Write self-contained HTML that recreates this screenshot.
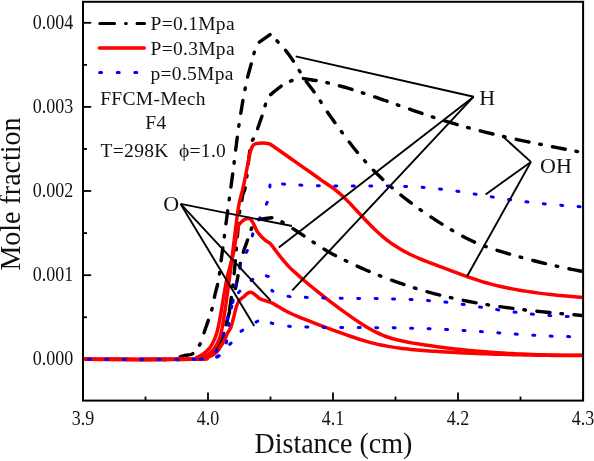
<!DOCTYPE html>
<html><head><meta charset="utf-8"><title>Mole fraction chart</title><style>
html,body{margin:0;padding:0;background:#fff;}
body{width:594px;height:461px;overflow:hidden;position:relative;}
svg{position:absolute;left:0;top:0;display:block;will-change:transform;}
text{font-family:"Liberation Serif",serif;fill:#111;}
.tk{font-size:18px;}
.ttl{font-size:28px;}
.lg{font-size:19.5px;letter-spacing:0.3px;}
.lb{font-size:22px;}
path,polyline,line{fill:none;}
.blk{stroke:#000;stroke-width:3.4;stroke-dasharray:13.1 10.9 1.6 11.4;stroke-linecap:round;stroke-linejoin:round;}
.red{stroke:#f00;stroke-width:3.5;stroke-linejoin:round;}
.blu{stroke:#00f;stroke-width:3;stroke-dasharray:2 15.5;stroke-linecap:round;stroke-linejoin:round;}
.ann{stroke:#000;stroke-width:1.9;}
</style></head>
<body>
<svg width="594" height="461" viewBox="0 0 594 461">
<defs><clipPath id="c"><rect x="84" y="2.6" width="498" height="397"/></clipPath></defs>
<line x1="83" y1="22.8" x2="91.2" y2="22.8" stroke="#000" stroke-width="1.8"/>
<line x1="83" y1="106.9" x2="91.2" y2="106.9" stroke="#000" stroke-width="1.8"/>
<line x1="83" y1="191.0" x2="91.2" y2="191.0" stroke="#000" stroke-width="1.8"/>
<line x1="83" y1="275.2" x2="91.2" y2="275.2" stroke="#000" stroke-width="1.8"/>
<line x1="83" y1="359.3" x2="91.2" y2="359.3" stroke="#000" stroke-width="1.8"/>
<line x1="83" y1="64.85" x2="87" y2="64.85" stroke="#000" stroke-width="1.8"/>
<line x1="83" y1="148.95" x2="87" y2="148.95" stroke="#000" stroke-width="1.8"/>
<line x1="83" y1="233.1" x2="87" y2="233.1" stroke="#000" stroke-width="1.8"/>
<line x1="83" y1="317.25" x2="87" y2="317.25" stroke="#000" stroke-width="1.8"/>
<line x1="83" y1="400.6" x2="83" y2="392.5" stroke="#000" stroke-width="1.8"/>
<line x1="208" y1="400.6" x2="208" y2="392.5" stroke="#000" stroke-width="1.8"/>
<line x1="333" y1="400.6" x2="333" y2="392.5" stroke="#000" stroke-width="1.8"/>
<line x1="458" y1="400.6" x2="458" y2="392.5" stroke="#000" stroke-width="1.8"/>
<line x1="583" y1="400.6" x2="583" y2="392.5" stroke="#000" stroke-width="1.8"/>
<line x1="145.5" y1="400.6" x2="145.5" y2="396.6" stroke="#000" stroke-width="1.8"/>
<line x1="270.5" y1="400.6" x2="270.5" y2="396.6" stroke="#000" stroke-width="1.8"/>
<line x1="395.5" y1="400.6" x2="395.5" y2="396.6" stroke="#000" stroke-width="1.8"/>
<line x1="520.5" y1="400.6" x2="520.5" y2="396.6" stroke="#000" stroke-width="1.8"/>
<g clip-path="url(#c)">
<path id="BO" style="stroke-dasharray:13.18 10.97 1.61 11.47;stroke-dashoffset:18.48" class="blk" d="M83.00,359.30 C102.17,359.30 177.17,359.77 198.00,359.30 C218.83,358.83 205.33,357.72 208.00,356.50 C210.67,355.28 212.25,353.92 214.00,352.00 C215.75,350.08 217.15,347.52 218.50,345.00 C219.85,342.48 220.80,340.47 222.10,336.90 C223.40,333.33 224.85,328.63 226.30,323.60 C227.75,318.57 229.62,311.25 230.80,306.70 C231.98,302.15 232.50,299.90 233.40,296.30 C234.30,292.70 235.40,288.70 236.20,285.10 C237.00,281.50 237.55,278.17 238.20,274.70 C238.85,271.23 239.13,268.42 240.10,264.30 C241.07,260.18 242.98,253.40 244.00,250.00 C245.02,246.60 245.23,246.70 246.20,243.90 C247.17,241.10 248.67,236.35 249.80,233.20 C250.93,230.05 251.97,227.03 253.00,225.00 C254.03,222.97 254.75,221.97 256.00,221.00 C257.25,220.03 257.47,219.73 260.50,219.20 C263.53,218.67 270.82,217.45 274.20,217.80 C277.58,218.15 279.10,220.40 280.80,221.30 C282.50,222.20 282.62,222.12 284.40,223.20 C286.18,224.28 289.73,226.67 291.50,227.80 C293.27,228.93 293.42,228.95 295.00,229.97 C296.58,230.98 299.00,232.55 301.00,233.88 C303.00,235.21 305.00,236.57 307.00,237.92 C309.00,239.27 311.00,240.65 313.00,241.98 C315.00,243.32 317.00,244.66 319.00,245.94 C321.00,247.22 323.00,248.47 325.00,249.67 C327.00,250.87 329.00,252.03 331.00,253.15 C333.00,254.27 335.00,255.35 337.00,256.40 C339.00,257.45 341.00,258.46 343.00,259.46 C345.00,260.45 347.00,261.41 349.00,262.36 C351.00,263.31 353.00,264.24 355.00,265.15 C357.00,266.06 359.00,266.96 361.00,267.84 C363.00,268.73 365.00,269.60 367.00,270.45 C369.00,271.30 371.00,272.14 373.00,272.97 C375.00,273.79 377.00,274.60 379.00,275.40 C381.00,276.19 383.00,276.97 385.00,277.74 C387.00,278.50 389.00,279.25 391.00,279.99 C393.00,280.72 395.00,281.44 397.00,282.15 C399.00,282.86 401.00,283.55 403.00,284.23 C405.00,284.90 407.00,285.56 409.00,286.21 C411.00,286.86 413.00,287.49 415.00,288.11 C417.00,288.73 419.00,289.33 421.00,289.92 C423.00,290.51 425.00,291.09 427.00,291.65 C429.00,292.21 431.00,292.75 433.00,293.29 C435.00,293.82 437.00,294.34 439.00,294.84 C441.00,295.35 443.00,295.84 445.00,296.32 C447.00,296.80 449.00,297.26 451.00,297.71 C453.00,298.17 455.00,298.61 457.00,299.04 C459.00,299.47 461.00,299.89 463.00,300.29 C465.00,300.70 467.00,301.09 469.00,301.48 C471.00,301.86 473.00,302.24 475.00,302.60 C477.00,302.97 479.00,303.32 481.00,303.66 C483.00,304.01 485.00,304.34 487.00,304.67 C489.00,304.99 491.00,305.31 493.00,305.62 C495.00,305.93 497.00,306.23 499.00,306.52 C501.00,306.81 503.00,307.09 505.00,307.37 C507.00,307.64 509.00,307.91 511.00,308.17 C513.00,308.44 515.00,308.69 517.00,308.94 C519.00,309.19 521.00,309.43 523.00,309.67 C525.00,309.90 527.00,310.13 529.00,310.36 C531.00,310.58 533.00,310.80 535.00,311.02 C537.00,311.24 539.00,311.45 541.00,311.65 C543.00,311.86 545.00,312.06 547.00,312.26 C549.00,312.46 551.00,312.65 553.00,312.84 C555.00,313.04 557.00,313.22 559.00,313.41 C561.00,313.60 563.00,313.78 565.00,313.96 C567.00,314.14 569.00,314.32 571.00,314.50 C573.00,314.68 575.00,314.85 577.00,315.03 C579.00,315.20 582.00,315.47 583.00,315.55"/>
<path id="BOH" style="stroke-dasharray:13.09 10.89 1.60 11.39;stroke-dashoffset:3.10" class="blk" d="M83.00,359.30 C101.83,359.30 175.50,359.68 196.00,359.30 C216.50,358.92 203.00,358.38 206.00,357.00 C209.00,355.62 211.83,353.17 214.00,351.00 C216.17,348.83 217.58,346.33 219.00,344.00 C220.42,341.67 221.08,341.00 222.50,337.00 C223.92,333.00 226.08,326.17 227.50,320.00 C228.92,313.83 229.83,308.33 231.00,300.00 C232.17,291.67 233.42,280.83 234.50,270.00 C235.58,259.17 236.67,244.50 237.50,235.00 C238.33,225.50 238.85,218.17 239.50,213.00 C240.15,207.83 240.87,207.00 241.40,204.00 C241.93,201.00 241.95,198.28 242.70,195.00 C243.45,191.72 244.63,192.23 245.90,184.30 C247.17,176.37 248.83,155.38 250.30,147.40 C251.77,139.42 253.53,139.38 254.70,136.40 C255.87,133.42 255.87,133.55 257.30,129.50 C258.73,125.45 261.85,116.58 263.30,112.10 C264.75,107.62 265.13,105.22 266.00,102.60 C266.87,99.98 268.08,97.43 268.50,96.40 C268.75,96.18 267.73,96.92 270.00,95.10 C272.27,93.28 278.48,87.90 282.10,85.50 C285.72,83.10 288.37,81.85 291.70,80.70 C295.03,79.55 299.88,78.90 302.10,78.60 C304.32,78.30 303.52,78.72 305.00,78.90 C306.48,79.09 309.00,79.40 311.00,79.70 C313.00,79.99 315.00,80.32 317.00,80.68 C319.00,81.04 321.00,81.43 323.00,81.85 C325.00,82.26 327.00,82.70 329.00,83.17 C331.00,83.64 333.00,84.13 335.00,84.64 C337.00,85.16 339.00,85.69 341.00,86.25 C343.00,86.80 345.00,87.37 347.00,87.96 C349.00,88.55 351.00,89.16 353.00,89.78 C355.00,90.40 357.00,91.04 359.00,91.68 C361.00,92.33 363.00,92.98 365.00,93.65 C367.00,94.31 369.00,94.99 371.00,95.67 C373.00,96.35 375.00,97.04 377.00,97.73 C379.00,98.42 381.00,99.11 383.00,99.81 C385.00,100.51 387.00,101.21 389.00,101.91 C391.00,102.61 393.00,103.32 395.00,104.02 C397.00,104.73 399.00,105.43 401.00,106.14 C403.00,106.84 405.00,107.54 407.00,108.25 C409.00,108.95 411.00,109.65 413.00,110.34 C415.00,111.03 417.00,111.73 419.00,112.41 C421.00,113.10 423.00,113.78 425.00,114.45 C427.00,115.13 429.00,115.80 431.00,116.46 C433.00,117.12 435.00,117.77 437.00,118.42 C439.00,119.06 441.00,119.70 443.00,120.32 C445.00,120.95 447.00,121.56 449.00,122.16 C451.00,122.77 453.00,123.36 455.00,123.95 C457.00,124.53 459.00,125.10 461.00,125.67 C463.00,126.24 465.00,126.79 467.00,127.34 C469.00,127.89 471.00,128.43 473.00,128.96 C475.00,129.49 477.00,130.01 479.00,130.52 C481.00,131.04 483.00,131.54 485.00,132.04 C487.00,132.54 489.00,133.03 491.00,133.52 C493.00,134.01 495.00,134.48 497.00,134.95 C499.00,135.43 501.00,135.89 503.00,136.35 C505.00,136.81 507.00,137.26 509.00,137.71 C511.00,138.16 513.00,138.60 515.00,139.04 C517.00,139.47 519.00,139.90 521.00,140.33 C523.00,140.76 525.00,141.18 527.00,141.60 C529.00,142.02 531.00,142.43 533.00,142.84 C535.00,143.25 537.00,143.66 539.00,144.06 C541.00,144.46 543.00,144.86 545.00,145.26 C547.00,145.66 549.00,146.05 551.00,146.44 C553.00,146.84 555.00,147.23 557.00,147.61 C559.00,148.00 561.00,148.39 563.00,148.77 C565.00,149.15 567.00,149.54 569.00,149.92 C571.00,150.30 573.00,150.68 575.00,151.06 C577.00,151.44 579.67,151.95 581.00,152.20 C582.33,152.45 582.67,152.52 583.00,152.58"/>
<path id="BH" style="stroke-dasharray:13.15 10.94 1.61 11.45;stroke-dashoffset:12.18" class="blk" d="M83.00,359.30 C97.17,359.30 152.33,359.55 168.00,359.30 C183.67,359.05 174.17,358.45 177.00,357.80 C179.83,357.15 182.67,355.95 185.00,355.40 C187.33,354.85 189.42,355.07 191.00,354.50 C192.58,353.93 193.42,353.08 194.50,352.00 C195.58,350.92 196.48,349.55 197.50,348.00 C198.52,346.45 199.27,345.95 200.60,342.70 C201.93,339.45 203.87,333.27 205.50,328.50 C207.13,323.73 209.15,318.02 210.40,314.10 C211.65,310.18 212.23,308.27 213.00,305.00 C213.77,301.73 214.08,298.67 215.00,294.50 C215.92,290.33 217.33,286.75 218.50,280.00 C219.67,273.25 220.45,265.67 222.00,254.00 C223.55,242.33 225.97,223.73 227.80,210.00 C229.63,196.27 231.42,183.78 233.00,171.60 C234.58,159.42 236.08,146.08 237.30,136.90 C238.52,127.72 239.35,122.65 240.30,116.50 C241.25,110.35 242.10,105.08 243.00,100.00 C243.90,94.92 244.90,89.93 245.70,86.00 C246.50,82.07 246.73,80.60 247.80,76.40 C248.87,72.20 250.95,65.05 252.10,60.80 C253.25,56.55 253.80,53.78 254.70,50.90 C255.60,48.02 257.03,44.73 257.50,43.50 L271.50,33.50 C272.47,34.78 275.55,39.09 277.30,41.20 C279.05,43.31 280.22,44.13 282.00,46.18 C283.78,48.23 286.00,50.84 288.00,53.48 C290.00,56.13 292.00,59.00 294.00,62.05 C296.00,65.10 298.00,68.61 300.00,71.78 C302.00,74.95 304.00,78.22 306.00,81.09 C308.00,83.96 310.00,86.29 312.00,89.02 C314.00,91.74 316.00,94.46 318.00,97.44 C320.00,100.42 322.00,103.85 324.00,106.92 C326.00,109.99 328.00,112.98 330.00,115.84 C332.00,118.70 334.00,121.34 336.00,124.10 C338.00,126.85 340.00,129.64 342.00,132.38 C344.00,135.11 346.00,137.87 348.00,140.51 C350.00,143.15 352.00,145.73 354.00,148.22 C356.00,150.72 358.00,153.13 360.00,155.48 C362.00,157.82 364.00,160.09 366.00,162.30 C368.00,164.51 370.00,166.65 372.00,168.73 C374.00,170.81 376.00,172.83 378.00,174.79 C380.00,176.75 382.00,178.65 384.00,180.51 C386.00,182.37 388.00,184.17 390.00,185.93 C392.00,187.69 394.00,189.39 396.00,191.07 C398.00,192.74 400.00,194.36 402.00,195.96 C404.00,197.55 406.00,199.11 408.00,200.64 C410.00,202.17 412.00,203.66 414.00,205.13 C416.00,206.60 418.00,208.05 420.00,209.46 C422.00,210.88 424.00,212.28 426.00,213.65 C428.00,215.02 430.00,216.36 432.00,217.68 C434.00,219.00 436.00,220.30 438.00,221.58 C440.00,222.86 442.00,224.11 444.00,225.35 C446.00,226.58 448.00,227.80 450.00,228.99 C452.00,230.19 454.00,231.37 456.00,232.52 C458.00,233.67 460.00,234.80 462.00,235.89 C464.00,236.98 466.00,238.04 468.00,239.04 C470.00,240.05 472.00,241.02 474.00,241.92 C476.00,242.82 478.00,243.66 480.00,244.45 C482.00,245.24 484.00,245.97 486.00,246.67 C488.00,247.38 490.00,248.03 492.00,248.68 C494.00,249.33 496.00,249.94 498.00,250.56 C500.00,251.18 502.00,251.79 504.00,252.39 C506.00,252.99 508.00,253.58 510.00,254.16 C512.00,254.75 514.00,255.32 516.00,255.88 C518.00,256.45 520.00,257.00 522.00,257.55 C524.00,258.10 526.00,258.64 528.00,259.16 C530.00,259.69 532.00,260.21 534.00,260.73 C536.00,261.24 538.00,261.74 540.00,262.23 C542.00,262.73 544.00,263.21 546.00,263.69 C548.00,264.16 550.00,264.63 552.00,265.09 C554.00,265.55 556.00,266.00 558.00,266.44 C560.00,266.88 562.00,267.31 564.00,267.74 C566.00,268.16 568.00,268.58 570.00,268.98 C572.00,269.39 573.83,269.76 576.00,270.18 C578.17,270.60 581.83,271.28 583.00,271.51"/>
<path class="red" d="M83.00,359.30 C101.83,359.30 175.67,359.52 196.00,359.30 C216.33,359.08 202.50,358.55 205.00,358.00 C207.50,357.45 209.08,356.95 211.00,356.00 C212.92,355.05 214.95,353.80 216.50,352.30 C218.05,350.80 219.00,348.95 220.30,347.00 C221.60,345.05 223.10,342.93 224.30,340.60 C225.50,338.27 226.42,335.18 227.50,333.00 C228.58,330.82 229.80,330.00 230.80,327.50 C231.80,325.00 232.63,321.25 233.50,318.00 C234.37,314.75 235.17,310.75 236.00,308.00 C236.83,305.25 237.60,303.07 238.50,301.50 C239.40,299.93 240.48,299.43 241.40,298.60 C242.32,297.77 243.07,297.30 244.00,296.50 C244.93,295.70 246.00,294.50 247.00,293.80 C248.00,293.10 249.00,292.40 250.00,292.30 C251.00,292.20 252.00,292.67 253.00,293.20 C254.00,293.73 254.92,294.62 256.00,295.50 C257.08,296.38 258.23,297.72 259.50,298.50 C260.77,299.28 261.75,299.55 263.60,300.20 C265.45,300.85 268.70,301.67 270.60,302.40 C272.50,303.13 273.30,303.67 275.00,304.60 C276.70,305.53 279.13,307.02 280.80,308.00 C282.47,308.98 283.30,309.55 285.00,310.47 C286.70,311.39 289.00,312.58 291.00,313.53 C293.00,314.48 295.00,315.34 297.00,316.19 C299.00,317.04 301.00,317.83 303.00,318.63 C305.00,319.43 307.00,320.22 309.00,320.99 C311.00,321.77 313.00,322.54 315.00,323.31 C317.00,324.07 319.00,324.83 321.00,325.58 C323.00,326.33 325.00,327.08 327.00,327.82 C329.00,328.57 331.00,329.30 333.00,330.04 C335.00,330.77 337.00,331.51 339.00,332.24 C341.00,332.96 343.00,333.69 345.00,334.40 C347.00,335.11 349.00,335.81 351.00,336.50 C353.00,337.18 355.00,337.85 357.00,338.49 C359.00,339.14 361.00,339.77 363.00,340.37 C365.00,340.96 367.00,341.54 369.00,342.08 C371.00,342.62 373.00,343.12 375.00,343.60 C377.00,344.08 379.00,344.52 381.00,344.94 C383.00,345.36 385.00,345.75 387.00,346.11 C389.00,346.48 391.00,346.81 393.00,347.13 C395.00,347.45 397.00,347.74 399.00,348.01 C401.00,348.29 403.00,348.54 405.00,348.77 C407.00,349.01 409.00,349.23 411.00,349.43 C413.00,349.63 415.00,349.82 417.00,349.99 C419.00,350.17 421.00,350.33 423.00,350.48 C425.00,350.63 427.00,350.78 429.00,350.91 C431.00,351.05 433.00,351.17 435.00,351.30 C437.00,351.42 439.00,351.54 441.00,351.65 C443.00,351.77 445.00,351.88 447.00,351.99 C449.00,352.11 451.00,352.21 453.00,352.32 C455.00,352.42 457.00,352.53 459.00,352.63 C461.00,352.73 463.00,352.83 465.00,352.92 C467.00,353.02 469.00,353.11 471.00,353.20 C473.00,353.29 475.00,353.38 477.00,353.46 C479.00,353.55 481.00,353.63 483.00,353.71 C485.00,353.79 487.00,353.86 489.00,353.94 C491.00,354.01 493.00,354.08 495.00,354.15 C497.00,354.22 499.00,354.29 501.00,354.35 C503.00,354.41 505.00,354.47 507.00,354.53 C509.00,354.59 511.00,354.65 513.00,354.70 C515.00,354.75 517.00,354.80 519.00,354.85 C521.00,354.90 523.00,354.94 525.00,354.98 C527.00,355.02 529.00,355.06 531.00,355.10 C533.00,355.14 535.00,355.17 537.00,355.20 C539.00,355.23 541.00,355.26 543.00,355.28 C545.00,355.31 547.00,355.33 549.00,355.35 C551.00,355.37 553.00,355.39 555.00,355.40 C557.00,355.42 559.00,355.43 561.00,355.44 C563.00,355.45 565.00,355.45 567.00,355.46 C569.00,355.46 571.00,355.46 573.00,355.46 C575.00,355.45 577.33,355.45 579.00,355.44 C580.67,355.43 582.33,355.42 583.00,355.42"/>
<path class="red" d="M83.00,359.30 C100.50,359.30 169.00,359.63 188.00,359.30 C207.00,358.97 194.33,358.28 197.00,357.30 C199.67,356.32 201.92,354.92 204.00,353.40 C206.08,351.88 207.92,350.18 209.50,348.20 C211.08,346.22 212.32,343.95 213.50,341.50 C214.68,339.05 215.65,336.67 216.60,333.50 C217.55,330.33 218.38,326.50 219.20,322.50 C220.02,318.50 220.77,313.75 221.50,309.50 C222.23,305.25 222.63,302.42 223.60,297.00 C224.57,291.58 225.73,284.00 227.30,277.00 C228.87,270.00 231.55,261.50 233.00,255.00 C234.45,248.50 235.17,242.67 236.00,238.00 C236.83,233.33 237.33,229.42 238.00,227.00 C238.67,224.58 239.27,224.50 240.00,223.50 C240.73,222.50 241.57,221.72 242.40,221.00 C243.23,220.28 244.13,219.63 245.00,219.20 C245.87,218.77 246.73,218.45 247.60,218.40 C248.47,218.35 249.33,218.23 250.20,218.90 C251.07,219.57 252.08,221.25 252.80,222.40 C253.52,223.55 253.78,224.32 254.50,225.80 C255.22,227.28 255.93,229.48 257.10,231.30 C258.27,233.12 260.10,235.20 261.50,236.70 C262.90,238.20 263.98,239.10 265.50,240.30 C267.02,241.50 269.10,242.43 270.60,243.90 C272.10,245.37 272.77,246.83 274.50,249.10 C276.23,251.37 278.62,254.58 281.00,257.50 C283.38,260.42 285.97,263.67 288.80,266.60 C291.63,269.53 295.30,272.67 298.00,275.10 C300.70,277.53 302.83,279.35 305.00,281.21 C307.17,283.07 309.00,284.60 311.00,286.27 C313.00,287.93 315.00,289.56 317.00,291.17 C319.00,292.79 321.00,294.38 323.00,295.95 C325.00,297.52 327.00,299.06 329.00,300.59 C331.00,302.12 333.00,303.63 335.00,305.13 C337.00,306.63 339.00,308.10 341.00,309.57 C343.00,311.03 345.00,312.48 347.00,313.92 C349.00,315.35 351.00,316.78 353.00,318.17 C355.00,319.56 357.00,320.93 359.00,322.24 C361.00,323.56 363.00,324.85 365.00,326.06 C367.00,327.28 369.00,328.46 371.00,329.55 C373.00,330.65 375.00,331.70 377.00,332.65 C379.00,333.61 381.00,334.49 383.00,335.30 C385.00,336.11 387.00,336.83 389.00,337.49 C391.00,338.16 393.00,338.76 395.00,339.31 C397.00,339.86 399.00,340.35 401.00,340.80 C403.00,341.26 405.00,341.66 407.00,342.05 C409.00,342.44 411.00,342.78 413.00,343.12 C415.00,343.45 417.00,343.76 419.00,344.07 C421.00,344.38 423.00,344.68 425.00,344.98 C427.00,345.27 429.00,345.56 431.00,345.85 C433.00,346.13 435.00,346.41 437.00,346.68 C439.00,346.95 441.00,347.22 443.00,347.47 C445.00,347.73 447.00,347.98 449.00,348.23 C451.00,348.47 453.00,348.71 455.00,348.94 C457.00,349.17 459.00,349.39 461.00,349.61 C463.00,349.82 465.00,350.03 467.00,350.23 C469.00,350.43 471.00,350.62 473.00,350.81 C475.00,351.00 477.00,351.17 479.00,351.35 C481.00,351.52 483.00,351.68 485.00,351.84 C487.00,352.00 489.00,352.15 491.00,352.29 C493.00,352.44 495.00,352.58 497.00,352.71 C499.00,352.84 501.00,352.97 503.00,353.09 C505.00,353.21 507.00,353.33 509.00,353.44 C511.00,353.54 513.00,353.65 515.00,353.75 C517.00,353.84 519.00,353.94 521.00,354.03 C523.00,354.11 525.00,354.20 527.00,354.27 C529.00,354.35 531.00,354.42 533.00,354.49 C535.00,354.56 537.00,354.62 539.00,354.68 C541.00,354.74 543.00,354.80 545.00,354.85 C547.00,354.90 549.00,354.94 551.00,354.99 C553.00,355.03 555.00,355.07 557.00,355.10 C559.00,355.14 561.00,355.17 563.00,355.20 C565.00,355.23 567.00,355.25 569.00,355.27 C571.00,355.30 573.00,355.31 575.00,355.33 C577.00,355.35 579.67,355.36 581.00,355.37 C582.33,355.38 582.67,355.38 583.00,355.38"/>
<path class="red" d="M83.00,359.30 C101.17,359.30 172.33,359.55 192.00,359.30 C211.67,359.05 198.33,358.60 201.00,357.80 C203.67,357.00 205.90,355.92 208.00,354.50 C210.10,353.08 212.02,351.22 213.60,349.30 C215.18,347.38 216.38,345.22 217.50,343.00 C218.62,340.78 219.47,338.83 220.30,336.00 C221.13,333.17 221.78,329.83 222.50,326.00 C223.22,322.17 223.93,317.33 224.60,313.00 C225.27,308.67 225.68,305.83 226.50,300.00 C227.32,294.17 228.42,286.33 229.50,278.00 C230.58,269.67 231.85,259.33 233.00,250.00 C234.15,240.67 235.48,229.17 236.40,222.00 C237.32,214.83 237.82,211.00 238.50,207.00 C239.18,203.00 239.75,201.17 240.50,198.00 C241.25,194.83 242.17,191.67 243.00,188.00 C243.83,184.33 244.67,180.17 245.50,176.00 C246.33,171.83 247.20,167.00 248.00,163.00 C248.80,159.00 249.67,154.58 250.30,152.00 C250.93,149.42 251.25,148.70 251.80,147.50 C252.35,146.30 252.90,145.45 253.60,144.80 C254.30,144.15 255.10,143.87 256.00,143.60 C256.90,143.33 257.33,143.27 259.00,143.20 C260.67,143.13 264.17,143.07 266.00,143.20 C267.83,143.33 269.33,143.87 270.00,144.00 C271.73,145.20 276.15,148.22 280.40,151.20 C284.65,154.18 290.45,158.35 295.50,161.90 C300.55,165.45 306.40,169.47 310.70,172.50 C315.00,175.53 317.80,177.65 321.30,180.10 C324.80,182.55 329.42,185.62 331.70,187.20 C333.98,188.78 333.45,188.33 335.00,189.56 C336.55,190.79 339.00,192.80 341.00,194.60 C343.00,196.40 345.00,198.37 347.00,200.38 C349.00,202.38 351.00,204.51 353.00,206.62 C355.00,208.74 357.00,210.93 359.00,213.08 C361.00,215.22 363.00,217.39 365.00,219.49 C367.00,221.58 369.00,223.66 371.00,225.66 C373.00,227.66 375.00,229.61 377.00,231.47 C379.00,233.33 381.00,235.12 383.00,236.81 C385.00,238.49 387.00,240.07 389.00,241.56 C391.00,243.06 393.00,244.45 395.00,245.78 C397.00,247.10 399.00,248.33 401.00,249.51 C403.00,250.68 405.00,251.77 407.00,252.82 C409.00,253.87 411.00,254.84 413.00,255.78 C415.00,256.72 417.00,257.61 419.00,258.46 C421.00,259.32 423.00,260.13 425.00,260.93 C427.00,261.72 429.00,262.48 431.00,263.24 C433.00,263.99 435.00,264.72 437.00,265.46 C439.00,266.20 441.00,266.92 443.00,267.66 C445.00,268.40 447.00,269.15 449.00,269.90 C451.00,270.65 453.00,271.41 455.00,272.16 C457.00,272.91 459.00,273.66 461.00,274.40 C463.00,275.14 465.00,275.87 467.00,276.59 C469.00,277.30 471.00,278.01 473.00,278.69 C475.00,279.37 477.00,280.04 479.00,280.67 C481.00,281.31 483.00,281.92 485.00,282.50 C487.00,283.07 489.00,283.62 491.00,284.14 C493.00,284.67 495.00,285.16 497.00,285.63 C499.00,286.11 501.00,286.55 503.00,286.98 C505.00,287.41 507.00,287.82 509.00,288.22 C511.00,288.61 513.00,288.99 515.00,289.36 C517.00,289.72 519.00,290.07 521.00,290.41 C523.00,290.75 525.00,291.07 527.00,291.39 C529.00,291.70 531.00,292.00 533.00,292.29 C535.00,292.57 537.00,292.85 539.00,293.11 C541.00,293.38 543.00,293.63 545.00,293.88 C547.00,294.12 549.00,294.35 551.00,294.58 C553.00,294.80 555.00,295.01 557.00,295.22 C559.00,295.43 561.00,295.62 563.00,295.81 C565.00,296.00 567.00,296.18 569.00,296.35 C571.00,296.53 573.00,296.69 575.00,296.85 C577.00,297.01 579.67,297.21 581.00,297.31 C582.33,297.42 582.67,297.44 583.00,297.46"/>
<line class="blu" x1="83" y1="359.3" x2="199" y2="359.3" style="stroke-dasharray:2 15.476;stroke-dashoffset:12.18"/>
<path id="Bl3" style="stroke-dasharray:2 15.475;stroke-dashoffset:5.45" class="blu" d="M206.00,359.30 C207.33,359.17 211.83,359.05 214.00,358.50 C216.17,357.95 217.38,357.25 219.00,356.00 C220.62,354.75 222.20,352.67 223.70,351.00 C225.20,349.33 226.48,347.63 228.00,346.00 C229.52,344.37 230.92,343.42 232.80,341.20 C234.68,338.98 236.38,335.30 239.30,332.70 C242.22,330.10 247.35,327.47 250.30,325.60 C253.25,323.73 254.82,322.73 257.00,321.50 C259.18,320.27 262.33,318.75 263.40,318.20 L271.80,323.20 C273.17,323.50 277.05,324.48 280.00,325.00 C282.95,325.52 287.50,326.06 289.50,326.30 C291.50,326.54 290.58,326.37 292.00,326.44 C293.42,326.51 296.00,326.64 298.00,326.72 C300.00,326.81 302.00,326.89 304.00,326.96 C306.00,327.03 308.00,327.09 310.00,327.15 C312.00,327.20 314.00,327.25 316.00,327.29 C318.00,327.34 320.00,327.37 322.00,327.40 C324.00,327.43 326.00,327.46 328.00,327.48 C330.00,327.50 332.00,327.52 334.00,327.54 C336.00,327.55 338.00,327.56 340.00,327.57 C342.00,327.58 344.00,327.59 346.00,327.59 C348.00,327.59 350.00,327.60 352.00,327.60 C354.00,327.60 356.00,327.60 358.00,327.61 C360.00,327.61 362.00,327.61 364.00,327.61 C366.00,327.62 368.00,327.62 370.00,327.63 C372.00,327.63 374.00,327.64 376.00,327.65 C378.00,327.66 380.00,327.68 382.00,327.69 C384.00,327.71 386.00,327.73 388.00,327.76 C390.00,327.78 392.00,327.81 394.00,327.84 C396.00,327.87 398.00,327.91 400.00,327.95 C402.00,327.99 404.00,328.03 406.00,328.07 C408.00,328.12 410.00,328.17 412.00,328.22 C414.00,328.28 416.00,328.33 418.00,328.40 C420.00,328.46 422.00,328.52 424.00,328.59 C426.00,328.66 428.00,328.73 430.00,328.81 C432.00,328.89 434.00,328.97 436.00,329.05 C438.00,329.14 440.00,329.23 442.00,329.32 C444.00,329.41 446.00,329.51 448.00,329.61 C450.00,329.71 452.00,329.81 454.00,329.92 C456.00,330.03 458.00,330.15 460.00,330.26 C462.00,330.38 464.00,330.50 466.00,330.63 C468.00,330.75 470.00,330.88 472.00,331.02 C474.00,331.15 476.00,331.29 478.00,331.42 C480.00,331.56 482.00,331.70 484.00,331.85 C486.00,331.99 488.00,332.13 490.00,332.28 C492.00,332.42 494.00,332.57 496.00,332.72 C498.00,332.86 500.00,333.01 502.00,333.15 C504.00,333.30 506.00,333.44 508.00,333.59 C510.00,333.73 512.00,333.87 514.00,334.01 C516.00,334.15 518.00,334.29 520.00,334.42 C522.00,334.55 524.00,334.68 526.00,334.81 C528.00,334.94 530.00,335.06 532.00,335.18 C534.00,335.29 536.00,335.41 538.00,335.52 C540.00,335.62 542.00,335.73 544.00,335.82 C546.00,335.92 548.00,336.01 550.00,336.09 C552.00,336.17 554.00,336.25 556.00,336.31 C558.00,336.38 560.00,336.44 562.00,336.49 C564.00,336.54 566.00,336.58 568.00,336.61 C570.00,336.65 572.00,336.67 574.00,336.68 C576.00,336.69 578.50,336.69 580.00,336.69 C581.50,336.68 582.50,336.67 583.00,336.66"/>
<path id="Bl2" style="stroke-dasharray:2 15.465;stroke-dashoffset:4.49" class="blu" d="M204.00,359.30 C205.33,359.17 209.67,359.05 212.00,358.50 C214.33,357.95 216.17,357.42 218.00,356.00 C219.83,354.58 221.58,352.33 223.00,350.00 C224.42,347.67 225.42,347.00 226.50,342.00 C227.58,337.00 228.53,326.33 229.50,320.00 C230.47,313.67 231.28,307.83 232.30,304.00 C233.32,300.17 234.47,299.02 235.60,297.00 C236.73,294.98 237.03,294.20 239.10,291.90 C241.17,289.60 245.52,285.43 248.00,283.20 C250.48,280.97 251.80,280.05 254.00,278.50 C256.20,276.95 260.00,274.67 261.20,273.90 L270.60,277.40 L271.90,290.80 C273.25,291.33 277.18,293.07 280.00,294.00 C282.82,294.93 286.80,295.96 288.80,296.40 C290.80,296.84 290.47,296.52 292.00,296.62 C293.53,296.72 296.00,296.87 298.00,296.99 C300.00,297.10 302.00,297.20 304.00,297.29 C306.00,297.39 308.00,297.47 310.00,297.55 C312.00,297.62 314.00,297.69 316.00,297.76 C318.00,297.82 320.00,297.87 322.00,297.92 C324.00,297.98 326.00,298.02 328.00,298.06 C330.00,298.10 332.00,298.13 334.00,298.17 C336.00,298.20 338.00,298.22 340.00,298.25 C342.00,298.27 344.00,298.29 346.00,298.31 C348.00,298.33 350.00,298.35 352.00,298.37 C354.00,298.39 356.00,298.40 358.00,298.42 C360.00,298.44 362.00,298.45 364.00,298.47 C366.00,298.49 368.00,298.50 370.00,298.52 C372.00,298.55 374.00,298.57 376.00,298.59 C378.00,298.62 380.00,298.65 382.00,298.68 C384.00,298.71 386.00,298.75 388.00,298.79 C390.00,298.83 392.00,298.87 394.00,298.93 C396.00,298.98 398.00,299.03 400.00,299.10 C402.00,299.16 404.00,299.23 406.00,299.31 C408.00,299.39 410.00,299.48 412.00,299.57 C414.00,299.67 416.00,299.77 418.00,299.89 C420.00,300.00 422.00,300.13 424.00,300.26 C426.00,300.39 428.00,300.54 430.00,300.70 C432.00,300.85 434.00,301.02 436.00,301.20 C438.00,301.38 440.00,301.57 442.00,301.78 C444.00,301.99 446.00,302.21 448.00,302.44 C450.00,302.68 452.00,302.93 454.00,303.19 C456.00,303.44 458.00,303.72 460.00,303.99 C462.00,304.27 464.00,304.56 466.00,304.86 C468.00,305.15 470.00,305.45 472.00,305.76 C474.00,306.06 476.00,306.38 478.00,306.69 C480.00,307.00 482.00,307.32 484.00,307.63 C486.00,307.95 488.00,308.26 490.00,308.58 C492.00,308.89 494.00,309.20 496.00,309.51 C498.00,309.81 500.00,310.12 502.00,310.41 C504.00,310.71 506.00,311.00 508.00,311.28 C510.00,311.56 512.00,311.83 514.00,312.09 C516.00,312.35 518.00,312.60 520.00,312.84 C522.00,313.07 524.00,313.30 526.00,313.52 C528.00,313.73 530.00,313.94 532.00,314.13 C534.00,314.32 536.00,314.51 538.00,314.68 C540.00,314.85 542.00,315.01 544.00,315.16 C546.00,315.31 548.00,315.45 550.00,315.58 C552.00,315.71 554.00,315.83 556.00,315.94 C558.00,316.05 560.00,316.15 562.00,316.24 C564.00,316.33 566.00,316.40 568.00,316.47 C570.00,316.54 572.00,316.60 574.00,316.65 C576.00,316.70 578.50,316.74 580.00,316.77 C581.50,316.79 582.50,316.80 583.00,316.80"/>
<path id="Bl1" style="stroke-dasharray:2 15.474;stroke-dashoffset:16.93" class="blu" d="M200.00,359.30 C201.17,359.05 204.93,358.45 207.00,357.80 C209.07,357.15 210.82,356.53 212.40,355.40 C213.98,354.27 215.17,352.72 216.50,351.00 C217.83,349.28 218.98,348.68 220.40,345.10 C221.82,341.52 223.70,334.38 225.00,329.50 C226.30,324.62 226.90,320.35 228.20,315.80 C229.50,311.25 231.57,306.88 232.80,302.20 C234.03,297.52 234.55,292.93 235.60,287.70 C236.65,282.47 237.80,275.67 239.10,270.80 C240.40,265.93 241.62,262.78 243.40,258.50 C245.18,254.22 247.95,250.12 249.80,245.10 C251.65,240.08 252.52,233.50 254.50,228.40 C256.48,223.30 259.95,218.07 261.70,214.50 C263.45,210.93 263.82,209.85 265.00,207.00 C266.18,204.15 267.93,201.57 268.80,197.40 C269.67,193.23 269.97,184.57 270.20,182.00 C272.40,182.33 280.10,183.58 283.40,184.00 C286.70,184.42 287.90,184.37 290.00,184.52 C292.10,184.67 294.00,184.79 296.00,184.90 C298.00,185.02 300.00,185.12 302.00,185.22 C304.00,185.31 306.00,185.39 308.00,185.47 C310.00,185.54 312.00,185.60 314.00,185.66 C316.00,185.71 318.00,185.76 320.00,185.80 C322.00,185.84 324.00,185.87 326.00,185.90 C328.00,185.92 330.00,185.94 332.00,185.96 C334.00,185.97 336.00,185.98 338.00,185.99 C340.00,186.00 342.00,186.00 344.00,186.00 C346.00,186.00 348.00,186.00 350.00,185.99 C352.00,185.99 354.00,185.99 356.00,185.98 C358.00,185.98 360.00,185.97 362.00,185.97 C364.00,185.96 366.00,185.96 368.00,185.96 C370.00,185.96 372.00,185.96 374.00,185.97 C376.00,185.97 378.00,185.98 380.00,185.99 C382.00,186.01 384.00,186.03 386.00,186.05 C388.00,186.07 390.00,186.10 392.00,186.14 C394.00,186.18 396.00,186.22 398.00,186.27 C400.00,186.32 402.00,186.38 404.00,186.45 C406.00,186.52 408.00,186.60 410.00,186.69 C412.00,186.78 414.00,186.88 416.00,186.99 C418.00,187.10 420.00,187.22 422.00,187.36 C424.00,187.49 426.00,187.64 428.00,187.81 C430.00,187.97 432.00,188.15 434.00,188.34 C436.00,188.53 438.00,188.74 440.00,188.96 C442.00,189.19 444.00,189.43 446.00,189.68 C448.00,189.93 450.00,190.20 452.00,190.48 C454.00,190.76 456.00,191.05 458.00,191.35 C460.00,191.65 462.00,191.96 464.00,192.27 C466.00,192.58 468.00,192.91 470.00,193.23 C472.00,193.56 474.00,193.89 476.00,194.23 C478.00,194.56 480.00,194.90 482.00,195.23 C484.00,195.57 486.00,195.91 488.00,196.24 C490.00,196.57 492.00,196.91 494.00,197.23 C496.00,197.56 498.00,197.89 500.00,198.20 C502.00,198.52 504.00,198.83 506.00,199.13 C508.00,199.43 510.00,199.72 512.00,200.00 C514.00,200.29 516.00,200.56 518.00,200.82 C520.00,201.08 522.00,201.34 524.00,201.58 C526.00,201.83 528.00,202.06 530.00,202.29 C532.00,202.52 534.00,202.74 536.00,202.95 C538.00,203.16 540.00,203.37 542.00,203.57 C544.00,203.77 546.00,203.96 548.00,204.15 C550.00,204.33 552.00,204.51 554.00,204.69 C556.00,204.87 558.00,205.04 560.00,205.20 C562.00,205.37 564.00,205.53 566.00,205.69 C568.00,205.85 570.00,206.00 572.00,206.15 C574.00,206.30 576.17,206.46 578.00,206.59 C579.83,206.73 582.17,206.89 583.00,206.95"/>
<line class="ann" x1="180.6" y1="203.9" x2="292.0" y2="226.0"/>
<line class="ann" x1="180.6" y1="203.9" x2="270.6" y2="300.6"/>
<line class="ann" x1="180.6" y1="203.9" x2="254.2" y2="326.0"/>
<line class="ann" x1="473.7" y1="96.7" x2="295.7" y2="56.4"/>
<line class="ann" x1="473.7" y1="96.7" x2="278.8" y2="247.5"/>
<line class="ann" x1="473.7" y1="96.7" x2="292.3" y2="290.4"/>
<line class="ann" x1="530.9" y1="161.9" x2="502.8" y2="136.4"/>
<line class="ann" x1="530.9" y1="161.9" x2="485.6" y2="194.4"/>
<line class="ann" x1="530.9" y1="161.9" x2="467.0" y2="276.5"/>
</g>
<rect x="83" y="1.8" width="500.1" height="398.8" fill="none" stroke="#000" stroke-width="2"/>
<text class="tk" transform="translate(73.2,28.6) scale(1,1.13)" text-anchor="end">0.004</text>
<text class="tk" transform="translate(73.2,112.7) scale(1,1.13)" text-anchor="end">0.003</text>
<text class="tk" transform="translate(73.2,196.8) scale(1,1.13)" text-anchor="end">0.002</text>
<text class="tk" transform="translate(73.2,281.0) scale(1,1.13)" text-anchor="end">0.001</text>
<text class="tk" transform="translate(73.2,365.1) scale(1,1.13)" text-anchor="end">0.000</text>
<text class="tk" transform="translate(83,424.6) scale(1,1.13)" text-anchor="middle">3.9</text>
<text class="tk" transform="translate(208,424.6) scale(1,1.13)" text-anchor="middle">4.0</text>
<text class="tk" transform="translate(333,424.6) scale(1,1.13)" text-anchor="middle">4.1</text>
<text class="tk" transform="translate(458,424.6) scale(1,1.13)" text-anchor="middle">4.2</text>
<text class="tk" transform="translate(583,424.6) scale(1,1.13)" text-anchor="middle">4.3</text>
<text class="ttl" transform="translate(333.4,452.7) scale(1,1.06)" text-anchor="middle">Distance (cm)</text>
<text class="ttl" transform="translate(20.1,194.0) rotate(-90) scale(1,1.06)" text-anchor="middle">Mole fraction</text>
<line x1="99.8" y1="23.4" x2="144.6" y2="23.4" class="blk" style="stroke-dasharray:14.8 10.9 0.8 10.7;stroke-width:3"/>
<line x1="99.5" y1="48" x2="144.2" y2="48" class="red" style="stroke-linecap:round;stroke-width:3.6"/>
<line x1="99.6" y1="72.6" x2="146" y2="72.6" class="blu" style="stroke-dasharray:2 15.6"/>
<text class="lg" x="150.5" y="29.9">P=0.1Mpa</text>
<text class="lg" x="150.5" y="54.8">P=0.3Mpa</text>
<text class="lg" x="150.5" y="79.7">p=0.5Mpa</text>
<text class="lg" x="100.2" y="104.8">FFCM-Mech</text>
<text class="lg" x="145.3" y="129.4">F4</text>
<text class="lg" x="100.6" y="156.7">T=298K  ϕ=1.0</text>
<text class="lb" x="479.2" y="104.5">H</text>
<text class="lb" x="540.1" y="173.3">OH</text>
<text class="lb" x="163.3" y="211.2">O</text>
</svg>
</body></html>
